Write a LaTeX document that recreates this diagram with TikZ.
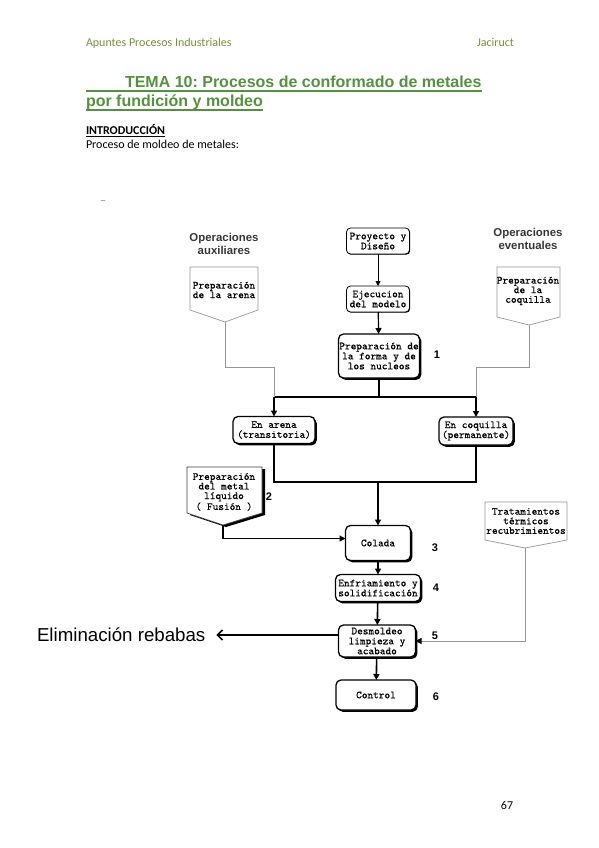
\documentclass[tikz,border=0pt]{standalone}
\usepackage{fontspec}
\setmainfont{Carlito}
\newfontfamily\arialf{Liberation Sans}
\newfontfamily\monof[FakeBold=0.5]{Latin Modern Mono}
\usetikzlibrary{arrows.meta,shadows,calc}
\definecolor{hdrgreen}{RGB}{118,146,60}
\definecolor{ttlgreen}{RGB}{86,145,64}
\definecolor{opgray}{RGB}{55,55,55}
\definecolor{auxgray}{RGB}{150,150,150}
\frenchspacing
\begin{document}
\begin{tikzpicture}[x=1pt,y=-1pt,
  every node/.style={inner sep=0pt, outer sep=0pt},
  monotext/.style={font=\monof\fontsize{10.8}{10}\selectfont},
  flowbox/.style={monotext, draw=black, line width=1.3pt, fill=white, rounded corners=5pt, align=center,
    general shadow={fill=black, shadow xshift=1.8pt, shadow yshift=-1.8pt}},
  lightbox/.style={monotext, draw=black, line width=0.8pt, fill=white, rounded corners=4pt, align=center,
    general shadow={fill=black, shadow xshift=0.7pt, shadow yshift=-0.7pt}},
  ptext/.style={align=center, font=\monof\fontsize{10.8}{9.6}\selectfont},
  pent/.style={draw=auxgray, line width=0.7pt, fill=white},
  mainline/.style={line width=1.6pt, draw=black},
  mainarrow/.style={mainline, -{Triangle[length=6pt,width=6pt]}},
  thinarrow/.style={line width=0.8pt, draw=black, -{Triangle[length=5pt,width=5pt]}},
  auxline/.style={draw=auxgray, line width=0.8pt},
  auxarrow/.style={auxline, -{Triangle[length=6pt,width=6pt,color=black]}},
  num/.style={font=\arialf\bfseries\fontsize{11}{11}\selectfont},
  ophead/.style={font=\arialf\bfseries\fontsize{11.4}{13}\selectfont, text=opgray, align=center},
  hdr/.style={font=\fontsize{12}{14}\selectfont},
  ttl/.style={font=\arialf\bfseries\fontsize{16}{18}\selectfont, text=ttlgreen},
  ul/.style={draw=ttlgreen, line width=1.2pt}
]
\useasboundingbox (0,0) rectangle (599,848);
\fill[white] (0,0) rectangle (599,848);

% ---------- page header / text ----------
\node[hdr, anchor=base west, text=hdrgreen] (h1) at (86,47) {Apuntes Procesos Industriales};
\node[hdr, anchor=base east, text=hdrgreen] (h2) at (514,47) {Jaciruct};
\node[ttl, anchor=base west] (t1) at (125,88) {TEMA 10: Procesos de conformado de metales};
\node[ttl, anchor=base west] (t2) at (86,107) {por fundición y moldeo};
\path ([yshift=-3pt]t1.base east) coordinate (u1e);
\draw[ul] (u1e) -- (u1e -| t2.base west);
\draw[ul] ([yshift=-3pt]t2.base west) -- ([yshift=-3pt]t2.base east);
\node[hdr, anchor=base west, font=\bfseries\fontsize{12}{14}\selectfont] (intro) at (86,135) {INTRODUCCIÓN};
\draw[line width=0.7pt] ([yshift=-1.6pt]intro.base west) -- ([yshift=-1.6pt]intro.base east);
\node[hdr, anchor=base west] (proc) at (86,149) {Proceso de moldeo de metales:};
\node[hdr, anchor=base, text=gray] (dash) at (103,204) {–};
\node[hdr, anchor=base] (pg) at (507,809) {67};

% ---------- headings ----------
\node[ophead] (opaux) at (224,244) {Operaciones\\auxiliares};
\node[ophead] (opev) at (528,239) {Operaciones\\eventuales};

% ---------- pentagons ----------
\coordinate (arenaTip) at (225,322);
\draw[pent] (190,267) -- (258,267) -- (258,310) -- (arenaTip) -- (190,310) -- cycle;
\node[ptext] (arenaP) at (224,290) {Preparación\\de la arena};

\coordinate (coqTip) at (529,325);
\draw[pent] (497,267) -- (560,267) -- (560,317) -- (coqTip) -- (497,317) -- cycle;
\node[ptext] (coqP) at (528,291) {Preparación\\de la\\coquilla};

\coordinate (fusTip) at (223,525);
\fill[black] (190,469) -- (265,469) -- (265,515) -- (226,527) -- (190,515) -- cycle;
\draw[pent, draw=black!75] (187,467) -- (262,467) -- (262,513) -- (fusTip) -- (187,513) -- cycle;
\node[ptext] (fusP) at (224,492) {Preparación\\del metal\\líquido\\( Fusión )};

\coordinate (tratTip) at (525,548);
\draw[pent] (485,502) -- (567,502) -- (567,540) -- (tratTip) -- (485,540) -- cycle;
\node[ptext] (tratP) at (526,521) {Tratamientos\\térmicos\\recubrimientos};

% ---------- flow boxes ----------
\node[lightbox, minimum width=63pt, minimum height=26pt] (proy) at (378,241) {Proyecto y\\Diseño};
\node[lightbox, minimum width=63pt, minimum height=26pt] (ejec) at (378,299) {Ejecucion\\del modelo};
\node[flowbox, minimum width=81pt, minimum height=44pt] (forma) at (379,356) {Preparación de\\la forma y de\\los nucleos};
\node[flowbox, minimum width=82pt, minimum height=27pt] (arena) at (274,430) {En arena\\(transitoria)};
\node[flowbox, minimum width=74pt, minimum height=28pt] (coq) at (476,431) {En coquilla\\(permanente)};
\node[flowbox, minimum width=65pt, minimum height=35pt] (colada) at (378,543) {Colada};
\node[flowbox, minimum width=85pt, minimum height=27pt] (enfr) at (378,588) {Enfriamiento y\\solidificación};
\node[flowbox, minimum width=77pt, minimum height=32pt] (desm) at (377,641) {Desmoldeo\\limpieza y\\acabado};
\node[flowbox, minimum width=80pt, minimum height=30pt] (control) at (376,695) {Control};

% ---------- numbers ----------
\node[num] (n1) at (437,355) {1};
\node[num] (n2) at (269,497) {2};
\node[num] (n3) at (435,548) {3};
\node[num] (n4) at (436,588) {4};
\node[num] (n5) at (435,636) {5};
\node[num] (n6) at (436,697) {6};

% ---------- side label ----------
\node[anchor=base west, font=\arialf\fontsize{18.7}{20}\selectfont] (elim) at (37,641) {Eliminación rebabas};

% ---------- connectors ----------
\coordinate (jA) at (0,397);
\coordinate (yA) at (0,367);
\coordinate (jB) at (0,482);
\coordinate (yE) at (0,635);

\draw[thinarrow] (proy) -- (ejec);
\draw[mainarrow, line width=1.2pt] (ejec) -- (forma);
\draw[mainline] (forma.south) -- (forma.south |- jA);
\draw[mainline] (arena.north |- jA) -- (coq.north |- jA);
\draw[mainarrow] (arena.north |- jA) -- (arena.north);
\draw[mainarrow] (coq.north |- jA) -- (coq.north);
\draw[auxline] (arenaTip) -- (arenaTip |- yA) -| (arena.north |- jA);
\draw[auxline] (coqTip) -- (coqTip |- yA) -| (coq.north |- jA);

\draw[mainline] (arena.south) -- (arena.south |- jB) -- (coq.south |- jB) -- (coq.south);
\draw[mainarrow] (colada.north |- jB) -- (colada.north);
\draw[mainarrow, line width=1.3pt] (fusTip) |- ([yshift=4.5pt]colada.west);
\draw[mainarrow] (colada) -- (enfr);
\draw[mainarrow] (enfr) -- (desm);
\draw[mainarrow] (desm) -- (control);
\draw[auxarrow] (tratTip) |- (desm.east);
\draw[line width=1.6pt, -{Straight Barb[length=5pt,width=10pt]}] (desm.west |- yE) -- ([xshift=11pt]elim.east |- yE);
\end{tikzpicture}
\end{document}
